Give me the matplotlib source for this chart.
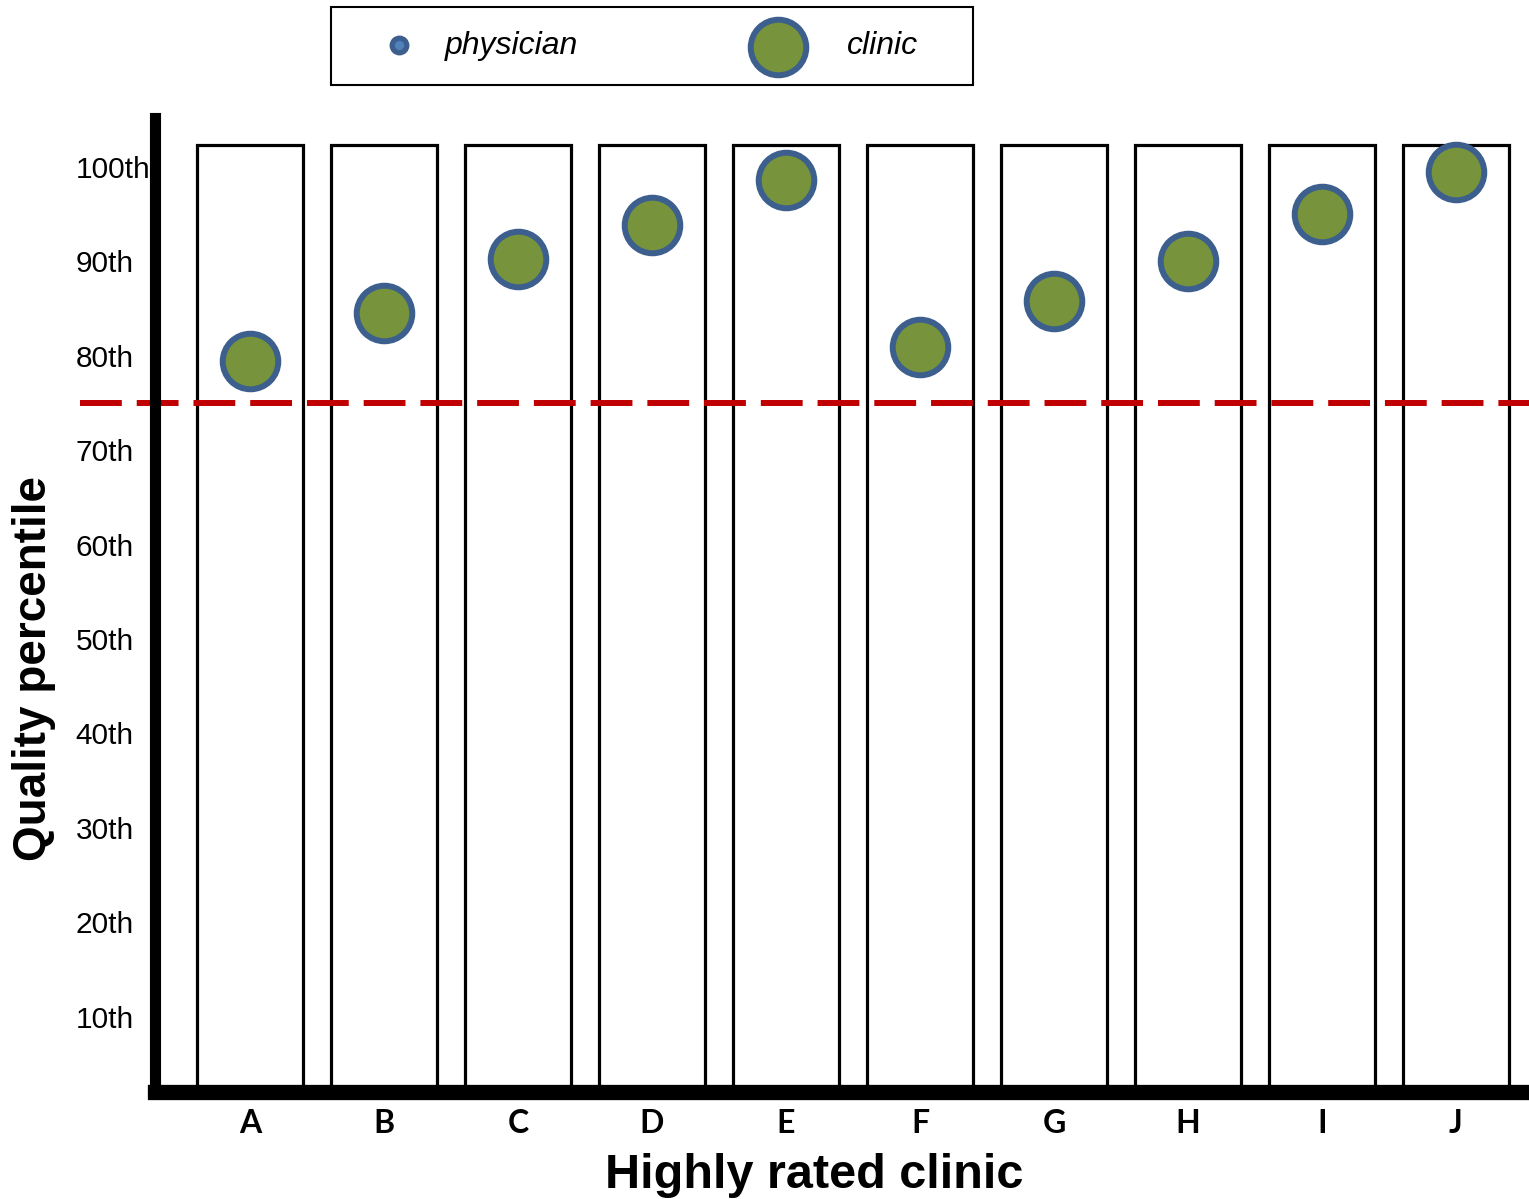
import matplotlib.pyplot as plt
from matplotlib.lines import Line2D
from matplotlib.patches import Rectangle

clinics = ['A', 'B', 'C', 'D', 'E', 'F', 'G', 'H', 'I', 'J']
clinic_pct = [79.4, 84.5, 90.3, 93.9, 98.6, 80.9, 85.8, 90.0, 95.0, 99.5]
tick_vals = [10, 20, 30, 40, 50, 60, 70, 80, 90, 100]
tick_labels = ['10th', '20th', '30th', '40th', '50th', '60th', '70th', '80th', '90th', '100th']
threshold = 75

green = '#77933C'
blue_edge = '#3C5F8E'
blue_face = '#4F81BD'

W, H = 1529, 1199
fig = plt.figure(figsize=(W / 100, H / 100), dpi=100)
ax = fig.add_axes([0.1014, 0.0892, 0.8986, 0.8124])

x = list(range(len(clinics)))
y_lo, y_hi = 2.0, 105.2
box_top = 102.3

# clinic boxes
ax.bar(x, [box_top - y_lo] * len(x), bottom=y_lo, width=0.79, fill=False,
       edgecolor='black', linewidth=2.3, zorder=2)

# threshold line, runs past the left spine into the label area
ax.plot([-1.27, 9.6], [threshold, threshold], color='#C00000', lw=4.3,
        dashes=(7, 2.5), clip_on=False, zorder=3)

ax.plot(x, clinic_pct, 'o', ms=40, mfc=green, mec=blue_edge, mew=4.3,
        zorder=4, clip_on=False)

ax.set_xlim(-0.709, 9.545)
ax.set_ylim(y_lo, y_hi)

for s in ['top', 'right']:
    ax.spines[s].set_visible(False)
ax.spines['left'].set_linewidth(8)
ax.spines['bottom'].set_linewidth(11)
ax.spines['left'].set_zorder(5)
ax.spines['bottom'].set_zorder(5)

ax.set_xticks(x)
ax.set_xticklabels(clinics, fontfamily='Lato', fontweight='bold', fontsize=23)
ax.set_yticks(tick_vals)
ax.set_yticklabels(tick_labels, fontfamily='Liberation Sans', fontsize=21.5, ha='left')
ax.tick_params(axis='y', length=0, pad=57)
ax.tick_params(axis='x', length=0, pad=12)

ax.set_xlabel('Highly rated clinic', fontfamily='Liberation Sans', fontweight='bold',
              fontsize=35)
ax.xaxis.set_label_coords(0.48, -0.063)
ax.set_ylabel('Quality percentile', fontfamily='Liberation Sans', fontweight='bold',
              fontsize=33)
ax.yaxis.set_label_coords(-0.072, 0.435)

# legend box drawn by hand so the entries sit where the reference has them
fig.add_artist(Rectangle((331 / W, 1 - 85 / H), 642 / W, 78 / H, transform=fig.transFigure,
                         fill=False, edgecolor='black', linewidth=1.5))
fig.add_artist(Line2D([399 / W], [1 - 45 / H], transform=fig.transFigure, ls='none',
                      marker='o', ms=10.5, mfc=blue_face, mec=blue_edge, mew=3.8))
fig.add_artist(Line2D([778 / W], [1 - 47 / H], transform=fig.transFigure, ls='none',
                      marker='o', ms=40, mfc=green, mec=blue_edge, mew=4.3))
fig.text(445 / W, 1 - 46 / H, 'physician', fontfamily='Liberation Sans', style='italic',
         fontsize=23, va='center', ha='left')
fig.text(847 / W, 1 - 46 / H, 'clinic', fontfamily='Liberation Sans', style='italic',
         fontsize=23, va='center', ha='left')

fig.savefig('out.png', dpi=100)
